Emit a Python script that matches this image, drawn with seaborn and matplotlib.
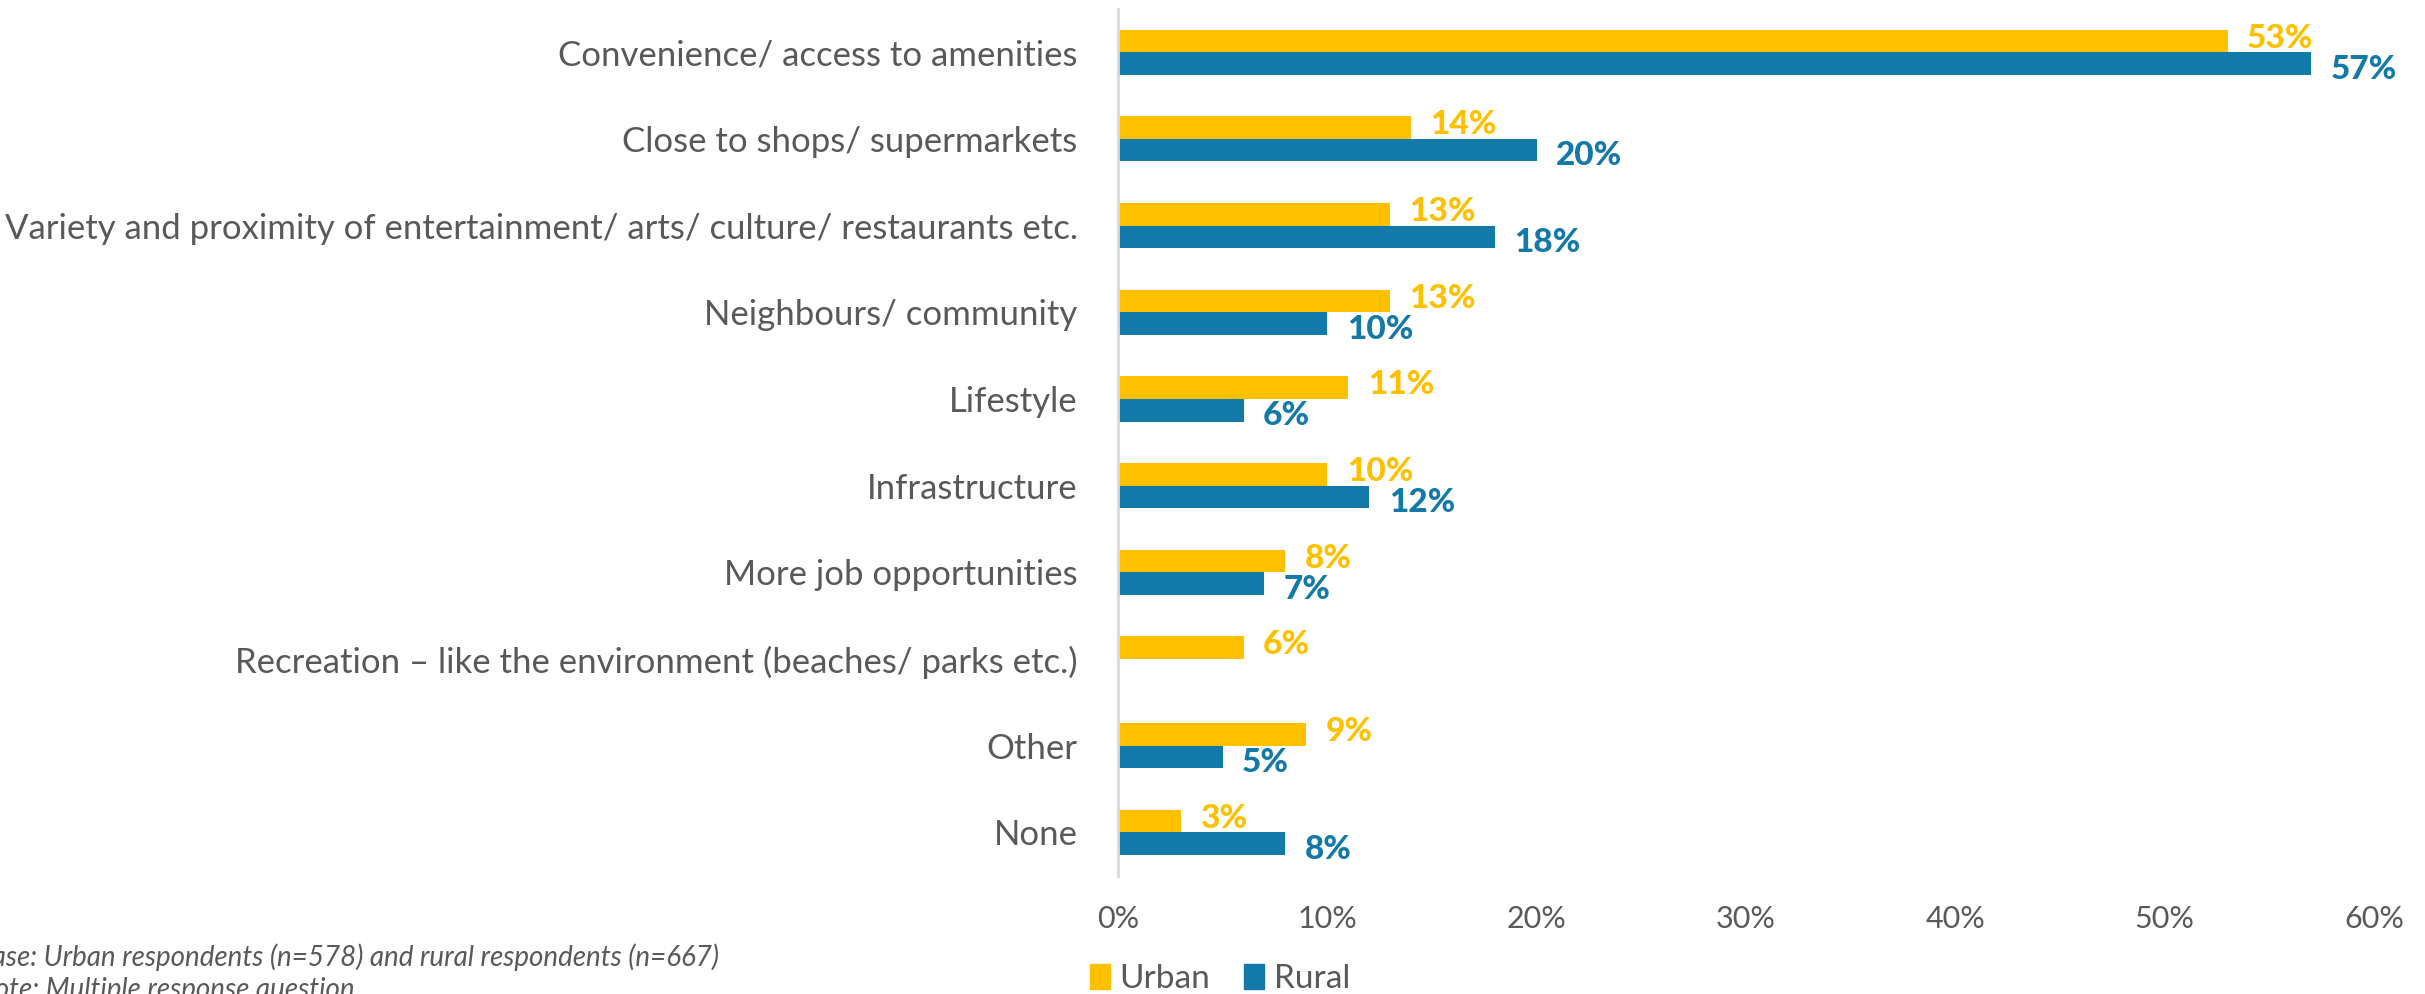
import matplotlib

matplotlib.use("Agg")

import matplotlib.pyplot as plt
import pandas as pd
import seaborn as sns

categories = [
    "Convenience/ access to amenities",
    "Close to shops/ supermarkets",
    "Variety and proximity of entertainment/ arts/ culture/ restaurants etc.",
    "Neighbours/ community",
    "Lifestyle",
    "Infrastructure",
    "More job opportunities",
    "Recreation \u2013 like the environment (beaches/ parks etc.)",
    "Other",
    "None",
]
urban = [53, 14, 13, 13, 11, 10, 8, 6, 9, 3]
rural = [57, 20, 18, 10, 6, 12, 7, None, 5, 8]
groups = ["Urban", "Rural"]
colors = ["#FFC000", "#1279A9"]
x_ticks = [0, 10, 20, 30, 40, 50, 60]
footnotes = [
    "Base: Urban respondents (n=578) and rural respondents (n=667)",
    "Note: Multiple response question",
]

sns.set_theme(style="white")
plt.rcParams["font.family"] = ["Lato", "DejaVu Sans"]

df = pd.DataFrame(
    {
        "reason": categories * 2,
        "group": ["Urban"] * len(categories) + ["Rural"] * len(categories),
        "value": urban + rural,
    }
).dropna()

fig = plt.figure(figsize=(24.25, 9.94), dpi=100)
ax = fig.add_axes([0.461, 0.119, 0.518, 0.872])

sns.barplot(
    data=df,
    y="reason",
    x="value",
    hue="group",
    order=categories,
    hue_order=groups,
    palette=colors,
    orient="h",
    width=0.52,
    errorbar=None,
    linewidth=0,
    saturation=1,
    legend=False,
    ax=ax,
)

# yellow labels sit a touch high, blue ones a touch low, as in the source
for container, color, dy in zip(ax.containers, colors, [2, -4]):
    labels = ax.bar_label(
        container,
        fmt="{:.0f}%",
        padding=14,
        color=color,
        fontsize=24,
        fontweight="black",
    )
    for lab in labels:
        lab.xyann = (14, dy)

ax.set_xlim(0, 60)
ax.set_ylim(9.5, -0.5)
ax.set_xticks(x_ticks)
ax.set_xticklabels([f"{t}%" for t in x_ticks])
ax.set_xlabel("")
ax.set_ylabel("")
ax.tick_params(axis="x", length=0, pad=21, labelsize=22, labelcolor="#595959")
ax.tick_params(axis="y", length=0, pad=29, labelsize=25, labelcolor="#595959")
for side in ["top", "right", "bottom"]:
    ax.spines[side].set_visible(False)
ax.spines["left"].set_color("#D9D9D9")
ax.spines["left"].set_linewidth(2)

handles = [plt.Rectangle((0, 0), 1, 1, color=c) for c in colors]
fig.legend(
    handles,
    groups,
    loc="center",
    bbox_to_anchor=(0.503, 0.015),
    ncol=2,
    frameon=False,
    fontsize=24,
    labelcolor="#595959",
    handlelength=0.6,
    handleheight=0.8,
    handletextpad=0.3,
    columnspacing=1.0,
)

fig.text(-0.0105, 0.037, footnotes[0], fontsize=20, style="italic", color="#595959", va="center")
fig.text(-0.0105, 0.004, footnotes[1], fontsize=20, style="italic", color="#595959", va="center")

fig.savefig("out.png", dpi=100)
